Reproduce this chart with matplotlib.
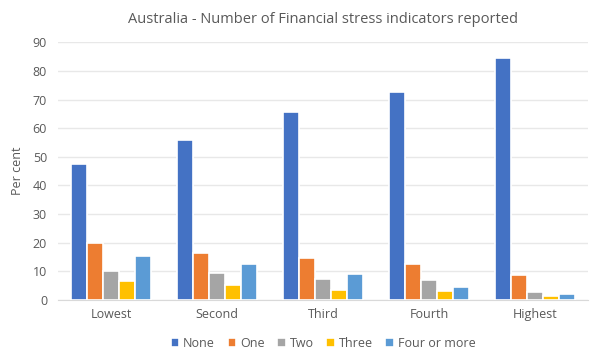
import numpy as np
import matplotlib.pyplot as plt

plt.rcParams['font.family'] = ['Open Sans', 'DejaVu Sans']

# data
groups = ['Lowest', 'Second', 'Third', 'Fourth', 'Highest']
series = ['None', 'One', 'Two', 'Three', 'Four or more']
none_vals = [47.5, 56.0, 65.5, 72.5, 84.6]
one_vals = [20.0, 16.5, 14.5, 12.5, 8.7]
two_vals = [10.0, 9.5, 7.2, 7.0, 2.7]
three_vals = [6.5, 5.3, 3.5, 3.0, 1.5]
four_vals = [15.5, 12.5, 9.2, 4.4, 2.1]
colors = ['#4472C4', '#ED7D31', '#A5A5A5', '#FFC000', '#5B9BD5']

all_vals = [none_vals, one_vals, two_vals, three_vals, four_vals]

fig = plt.figure(figsize=(6, 3.61), dpi=100)
ax = fig.add_axes([0.097, 0.169, 0.883, 0.714])

x = np.arange(len(groups))
step = 0.151
width = 0.151
for i, (name, vals) in enumerate(zip(series, all_vals)):
    ax.bar(x + (i - 2) * step, vals, width, color=colors[i], label=name,
           edgecolor='white', linewidth=1.2, zorder=3)

ax.set_xlim(-0.5, len(groups) - 0.5)
ax.set_ylim(0, 90)
ax.set_yticks(range(0, 91, 10))
ax.set_xticks(x)
ax.set_xticklabels(groups)
ax.grid(axis='y', color='#E8E8E8', linewidth=1, zorder=0)
for s in ['top', 'right', 'left']:
    ax.spines[s].set_visible(False)
ax.spines['bottom'].set_color('#D9D9D9')
ax.tick_params(axis='both', length=0, labelsize=9, colors='#595959')
ax.tick_params(axis='x', pad=6)
ax.tick_params(axis='y', pad=8)
ax.set_ylabel('Per cent', fontsize=9, color='#595959', labelpad=6)
ax.set_title('Australia - Number of Financial stress indicators reported',
             fontsize=10.5, color='#595959', pad=14)

ax.legend(loc='upper center', bbox_to_anchor=(0.5, -0.1), ncol=5, frameon=False,
          fontsize=9, labelcolor='#595959', handlelength=0.7, handleheight=0.7,
          handletextpad=0.3, columnspacing=1.0)

fig.savefig('out.png', dpi=100)
